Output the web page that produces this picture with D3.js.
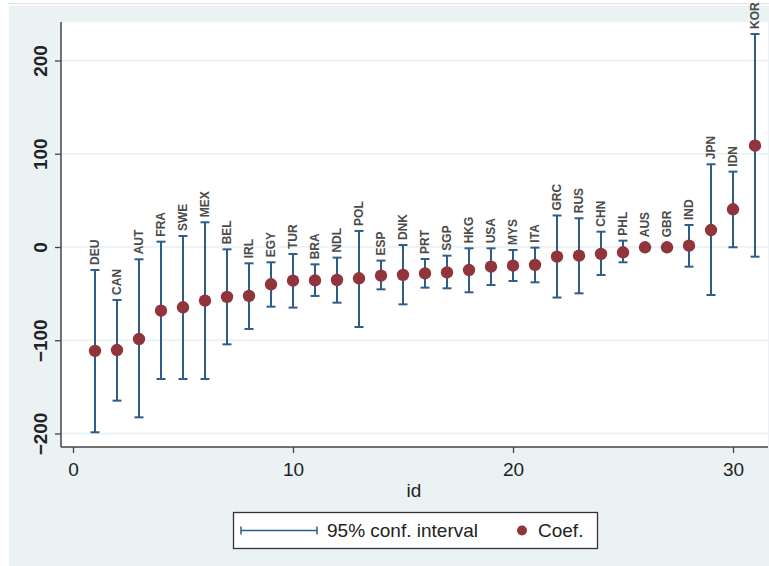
<!DOCTYPE html>
<html>
<head>
<meta charset="utf-8">
<script src="https://cdn.jsdelivr.net/npm/d3@7"></script>
<style>
  html, body { margin: 0; padding: 0; background: #ffffff; }
  svg { display: block; font-family: "Liberation Sans", Arial, sans-serif; }
</style>
</head>
<body>
<svg id="chart" width="769" height="566"></svg>
<script>
// ---- data ----
const countries = ["DEU","CAN","AUT","FRA","SWE","MEX","BEL","IRL","EGY","TUR","BRA","NDL","POL","ESP","DNK","PRT","SGP","HKG","USA","MYS","ITA","GRC","RUS","CHN","PHL","AUS","GBR","IND","JPN","IDN","KOR"];
const ids = d3.range(1, 32);
const coef  = [-111.5,-110.5,-98.7,-68.3,-64.7,-57.5,-53.6,-52.5,-40.0,-36.1,-35.8,-35.4,-33.6,-30.7,-30.0,-28.3,-27.2,-24.7,-21.1,-20.0,-19.3,-10.4,-9.3,-7.5,-5.7,-0.3,-0.3,1.4,18.2,40.4,108.6];
const upper = [-24.7,-56.8,-13.2,5.7,11.8,26.5,-2.5,-17.5,-16.4,-7.5,-18.6,-11.4,17.2,-14.6,2.1,-12.9,-9.3,-1.4,-1.4,-3.2,-0.7,33.8,30.8,16.4,6.8,null,null,23.6,88.7,80.8,228.4];
const lower = [-198.7,-164.8,-182.7,-141.6,-141.6,-141.6,-104.4,-87.9,-64.0,-65.0,-52.5,-59.7,-85.8,-45.4,-61.5,-43.6,-44.3,-48.6,-40.8,-36.5,-37.9,-54.2,-49.7,-30.0,-16.4,null,null,-21.1,-51.5,-0.3,-10.4];
const yTicks = [-200, -100, 0, 100, 200];
const xTicks = [0, 10, 20, 30];
const xTitle = "id";
const legendLabels = ["95% conf. interval", "Coef."];

// ---- style ----
const navy = "#2f5d89";
const maroon = "#90353b";
const bg = "#eaf2f3";
const grid = "#e6f0f1";

const svg = d3.select("#chart");
const W = 769, H = 566;
const plot = { left: 61, right: 768, top: 22, bottom: 447 };

// outer background
svg.append("rect").attr("x", 0).attr("y", 0).attr("width", W).attr("height", H).attr("fill", "#ffffff");
svg.append("line").attr("x1", 8).attr("x2", W).attr("y1", 3.5).attr("y2", 3.5).attr("stroke", "#e4e4e4").attr("stroke-width", 1);
svg.append("rect").attr("x", 9).attr("y", 6).attr("width", W - 9).attr("height", H - 6).attr("fill", bg);

// scales
const x = d3.scaleLinear().domain([-0.5, 31.59]).range([plot.left + 1, plot.right]);
const y = d3.scaleLinear().domain([-214.5, 241.3]).range([plot.bottom, plot.top]);

// plot region
svg.append("rect").attr("x", plot.left).attr("y", plot.top)
  .attr("width", plot.right - plot.left).attr("height", plot.bottom - plot.top)
  .attr("fill", "#ffffff");

// gridlines
svg.append("g").selectAll("line").data(yTicks).join("line")
  .attr("x1", plot.left).attr("x2", plot.right)
  .attr("y1", d => y(d)).attr("y2", d => y(d))
  .attr("stroke", grid).attr("stroke-width", 1.5);

// y axis
const yAxis = svg.append("g").attr("transform", `translate(${plot.left},0)`)
  .call(d3.axisLeft(y).tickValues(yTicks).tickSize(6).tickPadding(6).tickFormat(d3.format("d")));
yAxis.select(".domain").attr("stroke", "#444").attr("stroke-width", 1.5)
  .attr("d", `M0,${plot.top}V${plot.bottom}`);
yAxis.selectAll(".tick line").attr("stroke", "#444").attr("stroke-width", 1.3);
yAxis.selectAll(".tick text")
  .attr("font-size", 19).attr("font-weight", "bold").attr("fill", "#222")
  .attr("text-anchor", "middle").attr("dy", "0.35em")
  .attr("transform", "translate(-21,0) rotate(-90)").attr("y", 0).attr("x", 0);

// x axis
const xAxis = svg.append("g").attr("transform", `translate(0,${plot.bottom})`)
  .call(d3.axisBottom(x).tickValues(xTicks).tickSize(6).tickPadding(6).tickFormat(d3.format("d")));
xAxis.select(".domain").attr("stroke", "#444").attr("stroke-width", 1.5)
  .attr("d", `M${plot.left},0H${plot.right}`);
xAxis.selectAll(".tick line").attr("stroke", "#444").attr("stroke-width", 1.3);
xAxis.selectAll(".tick text").attr("font-size", 19).attr("fill", "#222").attr("dy", "0.9em");

// x title
svg.append("text").attr("x", (plot.left + plot.right) / 2 - 0.5).attr("y", 497)
  .attr("text-anchor", "middle").attr("font-size", 19).attr("fill", "#222").text(xTitle);

// data rows
const rows = ids.map((id, i) => ({ id, name: countries[i], coef: coef[i], lo: lower[i], hi: upper[i] }));
const ciRows = rows.filter(d => d.lo !== null && d.hi !== null);

const capW = 4.5;
const ci = svg.append("g").attr("stroke", navy).attr("stroke-width", 2).attr("fill", "none");
ci.selectAll("line.v").data(ciRows).join("line").attr("class", "v")
  .attr("x1", d => x(d.id)).attr("x2", d => x(d.id))
  .attr("y1", d => y(d.lo)).attr("y2", d => y(d.hi));
ci.selectAll("line.t").data(ciRows).join("line").attr("class", "t")
  .attr("x1", d => x(d.id) - capW).attr("x2", d => x(d.id) + capW)
  .attr("y1", d => y(d.hi)).attr("y2", d => y(d.hi));
ci.selectAll("line.b").data(ciRows).join("line").attr("class", "b")
  .attr("x1", d => x(d.id) - capW).attr("x2", d => x(d.id) + capW)
  .attr("y1", d => y(d.lo)).attr("y2", d => y(d.lo));

// markers
svg.append("g").selectAll("circle").data(rows).join("circle")
  .attr("cx", d => x(d.id)).attr("cy", d => y(d.coef)).attr("r", 6.2)
  .attr("fill", maroon);

// marker labels (above the upper CI)
svg.append("g").selectAll("text").data(rows).join("text")
  .attr("transform", d => {
    const top = d.hi !== null ? y(d.hi) - 5 : y(d.coef) - 10;
    return `translate(${x(d.id)},${top}) rotate(-90)`;
  })
  .attr("text-anchor", "start").attr("dy", "0.36em")
  .attr("font-size", 12).attr("font-weight", "bold").attr("fill", "#4a4a4a")
  .text(d => d.name);

// legend
const lg = svg.append("g");
lg.append("rect").attr("x", 233.5).attr("y", 512.5).attr("width", 364).attr("height", 36)
  .attr("fill", "#ffffff").attr("stroke", "#333").attr("stroke-width", 1.3);
const ly = 530.5;
lg.append("line").attr("x1", 241).attr("x2", 317).attr("y1", ly).attr("y2", ly).attr("stroke", navy).attr("stroke-width", 1.5);
lg.append("line").attr("x1", 241).attr("x2", 241).attr("y1", ly - 4).attr("y2", ly + 4).attr("stroke", navy).attr("stroke-width", 1.5);
lg.append("line").attr("x1", 317).attr("x2", 317).attr("y1", ly - 4).attr("y2", ly + 4).attr("stroke", navy).attr("stroke-width", 1.5);
lg.append("text").attr("x", 327).attr("y", ly).attr("dy", "0.35em").attr("font-size", 19).attr("fill", "#222").text(legendLabels[0]);
lg.append("circle").attr("cx", 522).attr("cy", ly).attr("r", 5).attr("fill", maroon);
lg.append("text").attr("x", 538).attr("y", ly).attr("dy", "0.35em").attr("font-size", 19).attr("fill", "#222").text(legendLabels[1]);
</script>
</body>
</html>
